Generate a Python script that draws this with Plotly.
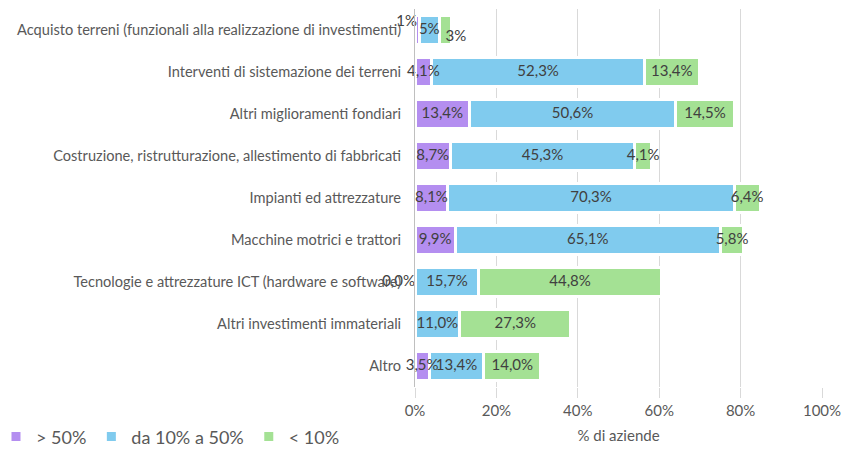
import plotly.graph_objects as go

categories = [
    "Acquisto terreni (funzionali alla realizzazione di investimenti)",
    "Interventi di sistemazione dei terreni",
    "Altri miglioramenti fondiari",
    "Costruzione, ristrutturazione, allestimento di fabbricati",
    "Impianti ed attrezzature",
    "Macchine motrici e trattori",
    "Tecnologie e attrezzature ICT (hardware e software)",
    "Altri investimenti immateriali",
    "Altro",
]
over_50 = [1, 4.1, 13.4, 8.7, 8.1, 9.9, 0.0, None, 3.5]
from_10_to_50 = [5, 52.3, 50.6, 45.3, 70.3, 65.1, 15.7, 11.0, 13.4]
under_10 = [3, 13.4, 14.5, 4.1, 6.4, 5.8, 44.8, 27.3, 14.0]
decimals = [0, 1, 1, 1, 1, 1, 1, 1, 1]
series_names = ["> 50%", "da 10% a 50%", "< 10%"]
colors = ["#B48EF0", "#80CBEE", "#A4E194"]
x_ticks = [0, 20, 40, 60, 80, 100]

FONT = "Lato, Roboto, sans-serif"
TXT = "#595959"


def fmt(v, d):
    if v is None:
        return ""
    return (f"{v:.{d}f}").replace(".", ",") + "%"


series = [over_50, from_10_to_50, under_10]

fig = go.Figure()
for name, vals, col in zip(series_names, series, colors):
    fig.add_trace(go.Bar(
        y=categories,
        x=vals,
        name=name,
        orientation="h",
        marker=dict(color=col, line=dict(color="white", width=3)),
        hoverinfo="x+y+name",
    ))

# data labels as text overlays, centred on each segment (computed from the data)
cum = [0.0] * len(categories)
for si, vals in enumerate(series):
    mids, texts, positions = [], [], []
    for i, v in enumerate(vals):
        w = v or 0.0
        mids.append(cum[i] + w / 2)
        cum[i] += w
        texts.append(fmt(v, decimals[i]))
        pos = "middle center"
        if decimals[i] == 0 and si == 0:
            pos = "top left"
        elif decimals[i] == 0 and si == 2:
            pos = "bottom right"
        elif v is not None and v == 0:
            pos = "middle left"
        positions.append(pos)
    fig.add_trace(go.Scatter(
        y=categories,
        x=mids,
        mode="text",
        text=texts,
        textposition=positions,
        textfont=dict(family=FONT, size=15, color="#404040"),
        showlegend=False,
        hoverinfo="skip",
        cliponaxis=False,
    ))

fig.update_layout(
    barmode="stack",
    bargap=0.32,
    width=841,
    height=450,
    margin=dict(l=407, r=27, t=1, b=71, autoexpand=False),
    paper_bgcolor="white",
    plot_bgcolor="white",
    font=dict(family=FONT, size=15, color=TXT),
    showlegend=True,
    legend=dict(
        orientation="h",
        x=-1.0295, xanchor="left",
        y=-0.132, yanchor="middle",
        xref="paper", yref="paper",
        font=dict(family=FONT, size=18, color=TXT),
        itemwidth=30,
        traceorder="normal",
        tracegroupgap=0,
    ),
    xaxis=dict(
        range=[0, 100],
        tickvals=x_ticks,
        ticktext=[f"{t}%" for t in x_ticks],
        showgrid=True,
        gridcolor="#D9D9D9",
        gridwidth=1,
        zeroline=False,
        ticks="outside",
        ticklen=10,
        tickcolor="#D9D9D9",
        automargin=True,
        tickfont=dict(family=FONT, size=15, color=TXT),
        title=dict(text="% di aziende", font=dict(family=FONT, size=15, color=TXT), standoff=12),
    ),
    yaxis=dict(
        autorange="reversed",
        showline=True,
        linecolor="#BFBFBF",
        linewidth=1,
        ticks="",
        automargin=False,
        ticklabelstandoff=10,
        tickfont=dict(family=FONT, size=14.6, color=TXT),
    ),
)

fig.write_html("out.html")
